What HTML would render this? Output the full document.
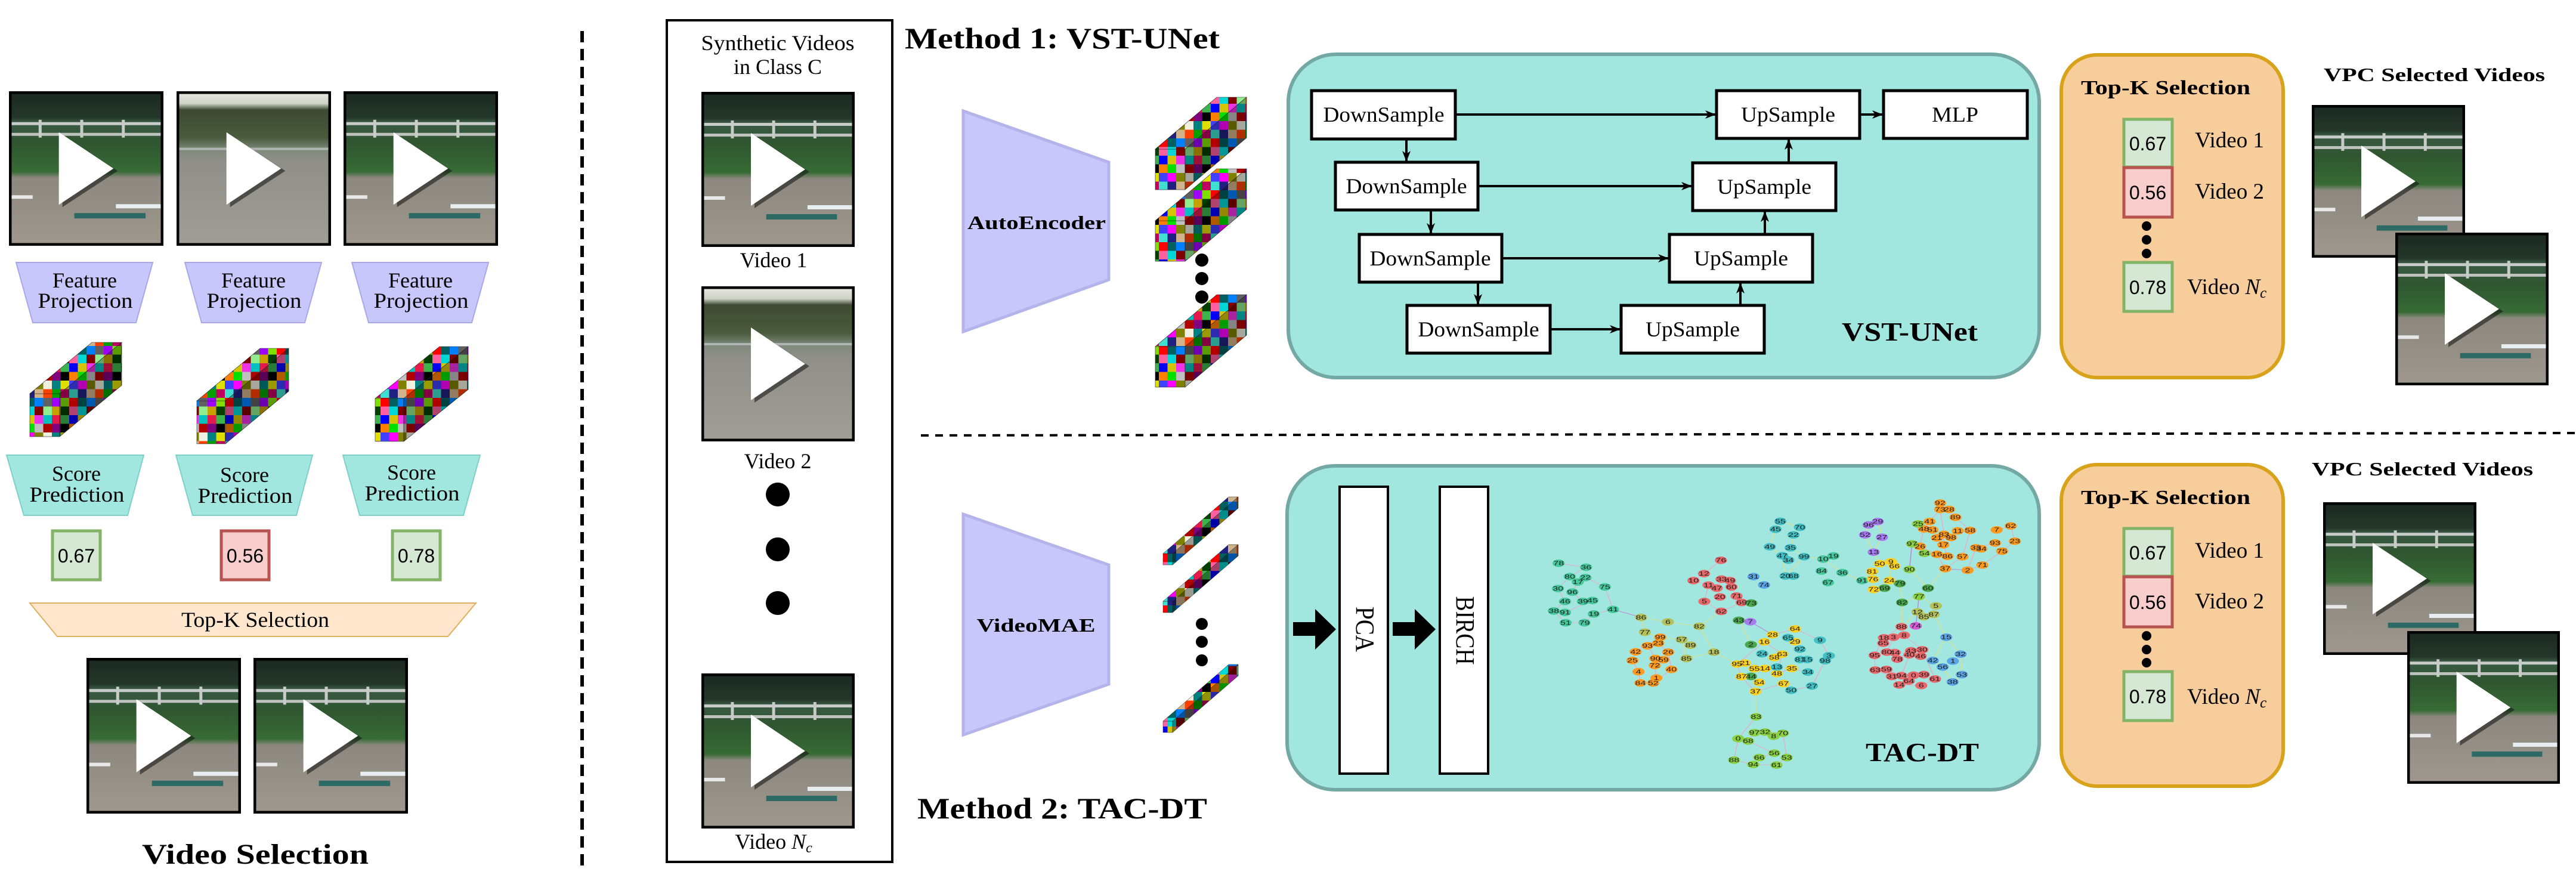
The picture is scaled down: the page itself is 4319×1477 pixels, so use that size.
<!DOCTYPE html>
<html><head><meta charset="utf-8"><style>
html,body{margin:0;padding:0;background:#fff}
svg{display:block}
.serif{font-family:"Liberation Serif",serif}
.sans{font-family:"Liberation Sans",sans-serif}
</style></head><body>
<svg width="4319" height="1477" viewBox="0 0 4319 1477" xmlns="http://www.w3.org/2000/svg" xmlns:xlink="http://www.w3.org/1999/xlink">
<defs>
<linearGradient id="vg" x1="0" y1="0" x2="0" y2="1">
<stop offset="0" stop-color="#1b2820"/><stop offset="0.17" stop-color="#24372a"/>
<stop offset="0.2" stop-color="#3b5a45"/><stop offset="0.33" stop-color="#2f5530"/>
<stop offset="0.52" stop-color="#376b35"/><stop offset="0.56" stop-color="#8d887f"/>
<stop offset="1" stop-color="#9e988e"/></linearGradient>
<linearGradient id="vg2" x1="0" y1="0" x2="0" y2="1">
<stop offset="0" stop-color="#e9e9e2"/><stop offset="0.08" stop-color="#cfd2c6"/>
<stop offset="0.12" stop-color="#3e4a33"/><stop offset="0.3" stop-color="#4a5b3d"/>
<stop offset="0.38" stop-color="#7e8a7c"/><stop offset="0.45" stop-color="#8f8e88"/>
<stop offset="1" stop-color="#a29e97"/></linearGradient>
<symbol id="vid" viewBox="0 0 260 260" preserveAspectRatio="none">
<rect width="260" height="260" fill="url(#vg)"/>
<rect x="0" y="52" width="260" height="5" fill="#c8ccc8"/>
<rect x="0" y="70" width="260" height="5" fill="#bfc3bf"/>
<rect x="50" y="48" width="5" height="30" fill="#c8ccc8"/><rect x="120" y="48" width="5" height="30" fill="#c8ccc8"/><rect x="190" y="48" width="5" height="30" fill="#c8ccc8"/>
<rect x="0" y="175" width="40" height="6" fill="#e8e8e8"/>
<rect x="110" y="205" width="120" height="9" fill="#2d6a66"/>
<rect x="180" y="190" width="80" height="7" fill="#e6eef2"/>
<polygon points="90,73 183,134 90,195" fill="#111" opacity="0.55"/>
<polygon points="84,69 176,130 84,191" fill="#fff"/>
<rect x="2" y="2" width="256" height="256" fill="none" stroke="#000" stroke-width="5"/>
</symbol>
<symbol id="vid2" viewBox="0 0 260 260" preserveAspectRatio="none">
<rect width="260" height="260" fill="url(#vg2)"/>
<rect x="0" y="95" width="260" height="4" fill="#b0b4b0"/>
<polygon points="90,73 183,134 90,195" fill="#111" opacity="0.55"/>
<polygon points="84,69 176,130 84,191" fill="#fff"/>
<rect x="2" y="2" width="256" height="256" fill="none" stroke="#000" stroke-width="5"/>
</symbol>
<pattern id="m" width="60" height="60" patternUnits="userSpaceOnUse" patternTransform="scale(1.45)">
<rect x="0" y="0" width="10" height="10" fill="#e6194b"/><rect x="10" y="0" width="10" height="10" fill="#3cb44b"/><rect x="20" y="0" width="10" height="10" fill="#0000ff"/><rect x="30" y="0" width="10" height="10" fill="#d4c400"/><rect x="40" y="0" width="10" height="10" fill="#f032e6"/><rect x="50" y="0" width="10" height="10" fill="#00c0c0"/>
<rect x="0" y="10" width="10" height="10" fill="#800080"/><rect x="10" y="10" width="10" height="10" fill="#000"/><rect x="20" y="10" width="10" height="10" fill="#ff8000"/><rect x="30" y="10" width="10" height="10" fill="#00e000"/><rect x="40" y="10" width="10" height="10" fill="#c0c0c0"/><rect x="50" y="10" width="10" height="10" fill="#b00000"/>
<rect x="0" y="20" width="10" height="10" fill="#008080"/><rect x="10" y="20" width="10" height="10" fill="#e0e000"/><rect x="20" y="20" width="10" height="10" fill="#4040ff"/><rect x="30" y="20" width="10" height="10" fill="#ff00ff"/><rect x="40" y="20" width="10" height="10" fill="#808000"/><rect x="50" y="20" width="10" height="10" fill="#f0f0e0"/>
<rect x="0" y="30" width="10" height="10" fill="#00a000"/><rect x="10" y="30" width="10" height="10" fill="#c00060"/><rect x="20" y="30" width="10" height="10" fill="#40e0d0"/><rect x="30" y="30" width="10" height="10" fill="#202080"/><rect x="40" y="30" width="10" height="10" fill="#d2b48c"/><rect x="50" y="30" width="10" height="10" fill="#ff4000"/>
<rect x="0" y="40" width="10" height="10" fill="#a000ff"/><rect x="10" y="40" width="10" height="10" fill="#80e000"/><rect x="20" y="40" width="10" height="10" fill="#ff0000"/><rect x="30" y="40" width="10" height="10" fill="#006060"/><rect x="40" y="40" width="10" height="10" fill="#0080ff"/><rect x="50" y="40" width="10" height="10" fill="#606060"/>
<rect x="0" y="50" width="10" height="10" fill="#c8a000"/><rect x="10" y="50" width="10" height="10" fill="#004000"/><rect x="20" y="50" width="10" height="10" fill="#ff60a0"/><rect x="30" y="50" width="10" height="10" fill="#00d8d8"/><rect x="40" y="50" width="10" height="10" fill="#800000"/><rect x="50" y="50" width="10" height="10" fill="#90ee90"/>
</pattern>
<marker id="ar" markerWidth="18" markerHeight="14" refX="17" refY="7" orient="auto" markerUnits="userSpaceOnUse"><path d="M0,0 L18,7 L0,14 L5,7z" fill="#000"/></marker>
</defs>

<use xlink:href="#vid" x="15" y="153" width="259" height="259"/>
<use xlink:href="#vid2" x="296" y="153" width="259" height="259"/>
<use xlink:href="#vid" x="576" y="153" width="259" height="259"/>

<g fill="#c7c7fb" stroke="#a8a8e6" stroke-width="2">
<polygon points="27,440 256,440 228,541 55,541"/>
<polygon points="310,440 539,440 511,541 338,541"/>
<polygon points="590,440 819,440 791,541 618,541"/>
</g>
<g fill="#a2e6e0" stroke="#80cfc8" stroke-width="2">
<polygon points="11,763 241,763 214,864 40,864"/>
<polygon points="295,763 524,763 497,864 323,864"/>
<polygon points="575,763 805,763 777,864 603,864"/>
</g>
<g class="serif" font-size="36" text-anchor="middle" fill="#000">
<text x="142" y="482">Feature</text><text x="143" y="516" textLength="159" lengthAdjust="spacingAndGlyphs">Projection</text>
<text x="425" y="482">Feature</text><text x="426" y="516" textLength="159" lengthAdjust="spacingAndGlyphs">Projection</text>
<text x="705" y="482">Feature</text><text x="706" y="516" textLength="159" lengthAdjust="spacingAndGlyphs">Projection</text>
<text x="128" y="806">Score</text><text x="129" y="841" textLength="159" lengthAdjust="spacingAndGlyphs">Prediction</text>
<text x="410" y="808">Score</text><text x="411" y="843" textLength="159" lengthAdjust="spacingAndGlyphs">Prediction</text>
<text x="690" y="804">Score</text><text x="691" y="839" textLength="159" lengthAdjust="spacingAndGlyphs">Prediction</text>
</g>

<g stroke="#222" stroke-width="0.6">
<rect x="50" y="660" width="50" height="72" fill="url(#m)"/>
<polygon points="50,660 100,660 204,574 154,574" fill="url(#m)"/>
<polygon points="100,660 204,574 204,646 100,732" fill="url(#m)"/>
<polygon points="100,660 204,574 204,646 100,732" fill="#000" opacity="0.3"/>
<rect x="330" y="672" width="48" height="72" fill="url(#m)"/>
<polygon points="330,672 378,672 484,584 436,584" fill="url(#m)"/>
<polygon points="378,672 484,584 484,656 378,744" fill="url(#m)"/>
<polygon points="378,672 484,584 484,656 378,744" fill="#000" opacity="0.3"/>
<rect x="629" y="668" width="48" height="72" fill="url(#m)"/>
<polygon points="629,668 677,668 785,581 737,581" fill="url(#m)"/>
<polygon points="677,668 785,581 785,653 677,740" fill="url(#m)"/>
<polygon points="677,668 785,581 785,653 677,740" fill="#000" opacity="0.3"/>
</g>

<g class="sans" font-size="32" text-anchor="middle">
<rect x="88" y="890" width="80" height="82" fill="#d5e8d4" stroke="#82b366" stroke-width="5"/>
<text x="128" y="943">0.67</text>
<rect x="371" y="890" width="80" height="82" fill="#f8cecc" stroke="#b85450" stroke-width="5"/>
<text x="411" y="943">0.56</text>
<rect x="658" y="890" width="80" height="82" fill="#d5e8d4" stroke="#82b366" stroke-width="5"/>
<text x="698" y="943">0.78</text>
</g>
<polygon points="50,1011 798,1011 751,1067 96,1067" fill="#ffe6cc" stroke="#e0b060" stroke-width="2"/>
<text x="428" y="1051" class="serif" font-size="36" text-anchor="middle" textLength="248" lengthAdjust="spacingAndGlyphs">Top-K Selection</text>
<use xlink:href="#vid" x="145" y="1103" width="259" height="261"/>
<use xlink:href="#vid" x="425" y="1103" width="259" height="261"/>
<text x="428" y="1448" class="serif" font-size="48" font-weight="bold" text-anchor="middle" textLength="380" lengthAdjust="spacingAndGlyphs">Video Selection</text>

<line x1="976" y1="52" x2="976" y2="1458" stroke="#000" stroke-width="6" stroke-dasharray="19 11"/>

<rect x="1118" y="34" width="378" height="1411" fill="none" stroke="#000" stroke-width="4"/>
<g class="serif" font-size="36" text-anchor="middle">
<text x="1304" y="84" textLength="257" lengthAdjust="spacingAndGlyphs">Synthetic Videos</text>
<text x="1304" y="124">in Class C</text>
<text x="1297" y="448">Video 1</text>
<text x="1304" y="785">Video 2</text>
<text x="1297" y="1423">Video <tspan font-style="italic">N</tspan><tspan font-style="italic" font-size="24" dy="6">c</tspan></text>
</g>
<use xlink:href="#vid" x="1176" y="154" width="257" height="260"/>
<use xlink:href="#vid2" x="1176" y="480" width="257" height="260"/>
<use xlink:href="#vid" x="1176" y="1129" width="257" height="260"/>
<circle cx="1304" cy="829" r="20"/><circle cx="1304" cy="921" r="20"/><circle cx="1304" cy="1011" r="20"/>

<text x="1517" y="81" class="serif" font-size="50" font-weight="bold" textLength="528" lengthAdjust="spacingAndGlyphs">Method 1: VST-UNet</text>
<polygon points="1615,186 1859,272 1859,469 1615,556" fill="#c7c7fb" stroke="#b4b4ea" stroke-width="5"/>
<text x="1738" y="384" class="serif" font-size="32" font-weight="bold" text-anchor="middle" textLength="232" lengthAdjust="spacingAndGlyphs">AutoEncoder</text>
<g stroke="#222" stroke-width="0.6">
<rect x="1937" y="250" width="50" height="68" fill="url(#m)"/>
<polygon points="1937,250 1987,250 2090,163 2040,163" fill="url(#m)"/>
<polygon points="1987,250 2090,163 2090,231 1987,318" fill="url(#m)"/>
<polygon points="1987,250 2090,163 2090,231 1987,318" fill="#000" opacity="0.3"/>
<rect x="1937" y="370" width="50" height="68" fill="url(#m)"/>
<polygon points="1937,370 1987,370 2090,283 2040,283" fill="url(#m)"/>
<polygon points="1987,370 2090,283 2090,351 1987,438" fill="url(#m)"/>
<polygon points="1987,370 2090,283 2090,351 1987,438" fill="#000" opacity="0.3"/>
<rect x="1937" y="581" width="50" height="68" fill="url(#m)"/>
<polygon points="1937,581 1987,581 2090,494 2040,494" fill="url(#m)"/>
<polygon points="1987,581 2090,494 2090,562 1987,649" fill="url(#m)"/>
<polygon points="1987,581 2090,494 2090,562 1987,649" fill="#000" opacity="0.3"/>
</g>
<circle cx="2015" cy="436" r="11"/><circle cx="2015" cy="467" r="11"/><circle cx="2015" cy="498" r="11"/>

<rect x="2160" y="91" width="1259" height="542" rx="80" fill="#a2e6e0" stroke="#74a8a4" stroke-width="6"/>
<g fill="#fff" stroke="#000" stroke-width="5">
<rect x="2199" y="152" width="241" height="81"/><rect x="2239" y="272" width="239" height="80"/>
<rect x="2279" y="393" width="239" height="80"/><rect x="2359" y="512" width="240" height="80"/>
<rect x="2878" y="152" width="240" height="80"/><rect x="2838" y="273" width="240" height="80"/>
<rect x="2799" y="393" width="240" height="80"/><rect x="2718" y="512" width="240" height="80"/>
<rect x="3158" y="152" width="241" height="80"/>
</g>
<g class="serif" font-size="36" text-anchor="middle">
<text x="2320" y="204" textLength="203" lengthAdjust="spacingAndGlyphs">DownSample</text><text x="2358" y="324" textLength="203" lengthAdjust="spacingAndGlyphs">DownSample</text>
<text x="2398" y="445" textLength="203" lengthAdjust="spacingAndGlyphs">DownSample</text><text x="2479" y="564" textLength="203" lengthAdjust="spacingAndGlyphs">DownSample</text>
<text x="2998" y="204" textLength="158" lengthAdjust="spacingAndGlyphs">UpSample</text><text x="2958" y="325" textLength="158" lengthAdjust="spacingAndGlyphs">UpSample</text>
<text x="2919" y="445" textLength="158" lengthAdjust="spacingAndGlyphs">UpSample</text><text x="2838" y="564" textLength="158" lengthAdjust="spacingAndGlyphs">UpSample</text>
<text x="3278" y="204" textLength="78" lengthAdjust="spacingAndGlyphs">MLP</text>
</g>
<g stroke="#000" stroke-width="4" marker-end="url(#ar)">
<line x1="2440" y1="192" x2="2876" y2="192"/><line x1="2478" y1="312" x2="2836" y2="312"/>
<line x1="2518" y1="433" x2="2797" y2="433"/><line x1="2599" y1="552" x2="2716" y2="552"/>
<line x1="3118" y1="192" x2="3156" y2="192"/>
<line x1="2358" y1="233" x2="2358" y2="270"/><line x1="2399" y1="352" x2="2399" y2="391"/>
<line x1="2478" y1="473" x2="2478" y2="510"/>
<line x1="2918" y1="512" x2="2918" y2="475"/><line x1="2959" y1="393" x2="2959" y2="355"/>
<line x1="2999" y1="273" x2="2999" y2="234"/>
</g>
<text x="3088" y="571" class="serif" font-size="44" font-weight="bold" textLength="228" lengthAdjust="spacingAndGlyphs">VST-UNet</text>

<rect x="3456" y="92" width="372" height="541" rx="60" fill="#f8cd9c" stroke="#d9a21b" stroke-width="6"/>
<text x="3631" y="158" class="serif" font-size="34" font-weight="bold" text-anchor="middle" textLength="284" lengthAdjust="spacingAndGlyphs">Top-K Selection</text>
<g class="sans" font-size="32" text-anchor="middle">
<rect x="3561" y="200" width="81" height="80" fill="#d5e8d4" stroke="#82b366" stroke-width="5"/><text x="3601" y="252">0.67</text>
<rect x="3561" y="281" width="81" height="83" fill="#f8cecc" stroke="#b85450" stroke-width="5"/><text x="3601" y="334">0.56</text>
<rect x="3561" y="440" width="81" height="82" fill="#d5e8d4" stroke="#82b366" stroke-width="5"/><text x="3601" y="493">0.78</text>
</g>
<circle cx="3599" cy="379" r="8"/><circle cx="3599" cy="402" r="8"/><circle cx="3599" cy="425" r="8"/>
<g class="serif" font-size="37">
<text x="3680" y="247">Video 1</text><text x="3680" y="333">Video 2</text>
<text x="3667" y="493">Video <tspan font-style="italic">N</tspan><tspan font-style="italic" font-size="25" dy="6">c</tspan></text>
</g>
<text x="3896" y="136" class="serif" font-size="32" font-weight="bold" textLength="371" lengthAdjust="spacingAndGlyphs">VPC Selected Videos</text>
<use xlink:href="#vid" x="3876" y="176" width="257" height="256"/>
<use xlink:href="#vid" x="4016" y="390" width="257" height="256"/>

<line x1="1544" y1="730" x2="4319" y2="726" stroke="#000" stroke-width="4" stroke-dasharray="13 11"/>

<polygon points="1615,862 1859,947 1859,1147 1615,1232" fill="#c7c7fb" stroke="#b4b4ea" stroke-width="5"/>
<text x="1737" y="1059" class="serif" font-size="32" font-weight="bold" text-anchor="middle" textLength="199" lengthAdjust="spacingAndGlyphs">VideoMAE</text>
<g stroke="#222" stroke-width="0.5">
<rect x="1950" y="928" width="16" height="19" fill="url(#m)"/>
<polygon points="1950,928 1966,928 2076,833 2060,833" fill="url(#m)"/>
<polygon points="1966,928 2076,833 2076,852 1966,947" fill="url(#m)"/>
<polygon points="1966,928 2076,833 2076,852 1966,947" fill="#000" opacity="0.35"/>
<rect x="1950" y="1008" width="16" height="19" fill="url(#m)"/>
<polygon points="1950,1008 1966,1008 2076,913 2060,913" fill="url(#m)"/>
<polygon points="1966,1008 2076,913 2076,932 1966,1027" fill="url(#m)"/>
<polygon points="1966,1008 2076,913 2076,932 1966,1027" fill="#000" opacity="0.35"/>
<rect x="1950" y="1209" width="16" height="19" fill="url(#m)"/>
<polygon points="1950,1209 1966,1209 2076,1114 2060,1114" fill="url(#m)"/>
<polygon points="1966,1209 2076,1114 2076,1133 1966,1228" fill="url(#m)"/>
<polygon points="1966,1209 2076,1114 2076,1133 1966,1228" fill="#000" opacity="0.35"/>
</g>
<circle cx="2015" cy="1046" r="10"/><circle cx="2015" cy="1076" r="10"/><circle cx="2015" cy="1107" r="10"/>

<rect x="2158" y="781" width="1261" height="543" rx="80" fill="#a2e6e0" stroke="#74a8a4" stroke-width="6"/>
<polygon points="2168,1043 2205,1043 2205,1021 2240,1055 2205,1089 2205,1066 2168,1066" fill="#000"/>
<polygon points="2335,1043 2372,1043 2372,1021 2407,1055 2372,1089 2372,1066 2335,1066" fill="#000"/>
<rect x="2246" y="816" width="81" height="481" fill="#fff" stroke="#000" stroke-width="4"/>
<rect x="2414" y="816" width="81" height="481" fill="#fff" stroke="#000" stroke-width="4"/>
<text transform="translate(2274,1055) rotate(90)" class="serif" font-size="44" text-anchor="middle" textLength="76" lengthAdjust="spacingAndGlyphs">PCA</text>
<text transform="translate(2442,1057) rotate(90)" class="serif" font-size="44" text-anchor="middle" textLength="115" lengthAdjust="spacingAndGlyphs">BIRCH</text>

<svg x="2580" y="830" width="840" height="470" viewBox="0 0 1568 1410" preserveAspectRatio="none">
<g fill="none" stroke-width="3" opacity="0.75">
<g stroke="#f4a0c0">
<polyline points="62,343 148,363 97,410 60,470 82,535 47,583 84,642 143,642 172,598 232,575 207,462 146,415 122,437 105,488 138,535 168,530 82,590"/>
<polyline points="380,715 303,788 293,832 312,888 318,945 358,945 415,877 405,790 374,745 340,758 365,822 363,857 368,920"/>
<polyline points="570,328 517,395 484,430 531,453 518,535 571,585 635,540 619,508 603,462 598,430 572,423 557,468 567,512"/>
<polyline points="732,702 802,673 880,730 908,808 896,833 855,960 790,982 766,948 678,988 634,913 620,850 706,738 762,800 745,898 792,872 842,890"/>
<polyline points="680,1115 624,1225 611,1333 671,1355 744,1358 776,1320 764,1198 708,1192 675,1195 655,1237 737,1298 690,1320"/>
<polyline points="1135,662 1080,718 1051,806 1053,880 1105,912 1128,955 1197,958 1240,925 1200,778 1143,705 1110,715 1089,790 1122,825 1165,783 1135,908 1088,877"/>
<polyline points="1256,40 1304,112 1350,178 1326,310 1272,370 1246,298 1193,258 1205,170 1223,133 1256,72 1268,198 1266,250 1279,308"/>
<polyline points="1433,175 1477,155 1490,232 1450,282 1388,352 1342,378 1368,265 1428,241"/>
</g>
<g stroke="#e8e070">
<polyline points="232,575 320,615 404,638 502,660 571,585"/><polyline points="502,660 548,790 620,850"/>
<polyline points="626,630 664,752"/><polyline points="678,988 680,1115"/>
<polyline points="830,310 890,322 950,390 1012,430 1043,384"/>
<polyline points="1160,374 1218,468 1272,370"/><polyline points="1190,510 1185,588 1135,662"/>
<polyline points="1236,600 1275,715 1233,832 1264,865 1295,940 1324,903 1320,800 1275,715"/>
<polyline points="1137,540 1135,662"/><polyline points="1130,445 1137,540 1190,510 1243,557"/>
<polyline points="756,132 817,162 797,200 788,265 830,310 772,407 762,305 723,260 741,172 756,132"/>
<polyline points="1032,150 1061,133 1074,212 1048,287 1021,200 1032,150"/><polyline points="1048,287 1067,345 1043,384 1048,475 1097,430 1102,335"/>
<polyline points="320,615 332,690 380,715 447,727 462,822 548,790"/>
</g>
<g stroke="#c070e0"><polyline points="232,575 320,615"/><polyline points="662,637 732,702"/><polyline points="1160,374 1168,245"/><polyline points="1272,370 1342,378"/><polyline points="1180,658 1190,510"/></g>
</g>
<g stroke="none">
<g fill="#45c99c"><circle cx="62" cy="343" r="19"/><circle cx="148" cy="363" r="19"/><circle cx="97" cy="410" r="19"/><circle cx="122" cy="437" r="19"/><circle cx="146" cy="415" r="19"/><circle cx="60" cy="470" r="19"/><circle cx="105" cy="488" r="19"/><circle cx="207" cy="462" r="19"/><circle cx="82" cy="535" r="19"/><circle cx="138" cy="535" r="19"/><circle cx="168" cy="530" r="19"/><circle cx="232" cy="575" r="19"/><circle cx="47" cy="583" r="19"/><circle cx="82" cy="590" r="19"/><circle cx="172" cy="598" r="19"/><circle cx="84" cy="642" r="19"/><circle cx="143" cy="642" r="19"/><circle cx="890" cy="322" r="19"/><circle cx="922" cy="306" r="19"/><circle cx="885" cy="382" r="19"/><circle cx="950" cy="390" r="19"/><circle cx="905" cy="440" r="19"/><circle cx="1012" cy="430" r="19"/></g>
<g fill="#b5c25a"><circle cx="320" cy="615" r="19"/><circle cx="404" cy="638" r="19"/><circle cx="502" cy="660" r="19"/><circle cx="332" cy="690" r="19"/><circle cx="447" cy="727" r="19"/><circle cx="475" cy="755" r="19"/><circle cx="462" cy="822" r="19"/><circle cx="548" cy="790" r="19"/><circle cx="1243" cy="557" r="19"/><circle cx="1185" cy="588" r="19"/><circle cx="1205" cy="612" r="19"/><circle cx="1236" cy="600" r="19"/></g>
<g fill="#ff9a1f"><circle cx="380" cy="715" r="19"/><circle cx="374" cy="745" r="19"/><circle cx="340" cy="758" r="19"/><circle cx="303" cy="788" r="19"/><circle cx="405" cy="790" r="19"/><circle cx="293" cy="832" r="19"/><circle cx="365" cy="822" r="19"/><circle cx="390" cy="828" r="19"/><circle cx="363" cy="857" r="19"/><circle cx="415" cy="877" r="19"/><circle cx="312" cy="888" r="19"/><circle cx="368" cy="920" r="19"/><circle cx="318" cy="945" r="19"/><circle cx="358" cy="945" r="19"/><circle cx="1256" cy="40" r="19"/><circle cx="1256" cy="72" r="19"/><circle cx="1284" cy="72" r="19"/><circle cx="1304" cy="112" r="19"/><circle cx="1223" cy="133" r="19"/><circle cx="1205" cy="170" r="19"/><circle cx="1232" cy="175" r="19"/><circle cx="1268" cy="198" r="19"/><circle cx="1290" cy="213" r="19"/><circle cx="1246" cy="215" r="19"/><circle cx="1311" cy="180" r="19"/><circle cx="1350" cy="178" r="19"/><circle cx="1193" cy="258" r="19"/><circle cx="1266" cy="250" r="19"/><circle cx="1246" cy="298" r="19"/><circle cx="1279" cy="308" r="19"/><circle cx="1326" cy="310" r="19"/><circle cx="1368" cy="265" r="19"/><circle cx="1385" cy="270" r="19"/><circle cx="1428" cy="241" r="19"/><circle cx="1433" cy="175" r="19"/><circle cx="1477" cy="155" r="19"/><circle cx="1490" cy="232" r="19"/><circle cx="1450" cy="282" r="19"/><circle cx="1272" cy="370" r="19"/><circle cx="1342" cy="378" r="19"/><circle cx="1388" cy="352" r="19"/></g>
<g fill="#e8686c"><circle cx="570" cy="328" r="19"/><circle cx="517" cy="395" r="19"/><circle cx="484" cy="430" r="19"/><circle cx="572" cy="423" r="19"/><circle cx="598" cy="430" r="19"/><circle cx="531" cy="453" r="19"/><circle cx="557" cy="468" r="19"/><circle cx="603" cy="462" r="19"/><circle cx="567" cy="512" r="19"/><circle cx="619" cy="508" r="19"/><circle cx="518" cy="535" r="19"/><circle cx="635" cy="540" r="19"/><circle cx="571" cy="585" r="19"/><circle cx="1135" cy="662" r="19"/><circle cx="1080" cy="718" r="19"/><circle cx="1078" cy="745" r="19"/><circle cx="1110" cy="715" r="19"/><circle cx="1143" cy="705" r="19"/><circle cx="1051" cy="806" r="19"/><circle cx="1089" cy="790" r="19"/><circle cx="1114" cy="792" r="19"/><circle cx="1122" cy="825" r="19"/><circle cx="1165" cy="783" r="19"/><circle cx="1160" cy="803" r="19"/><circle cx="1200" cy="778" r="19"/><circle cx="1195" cy="810" r="19"/><circle cx="1053" cy="880" r="19"/><circle cx="1088" cy="877" r="19"/><circle cx="1105" cy="912" r="19"/><circle cx="1135" cy="908" r="19"/><circle cx="1173" cy="906" r="19"/><circle cx="1205" cy="903" r="19"/><circle cx="1158" cy="935" r="19"/><circle cx="1128" cy="955" r="19"/><circle cx="1197" cy="958" r="19"/><circle cx="1240" cy="925" r="19"/></g>
<g fill="#5aa5e5"><circle cx="672" cy="410" r="19"/><circle cx="705" cy="452" r="19"/><circle cx="1275" cy="715" r="19"/><circle cx="1320" cy="800" r="19"/><circle cx="1233" cy="832" r="19"/><circle cx="1296" cy="835" r="19"/><circle cx="1264" cy="865" r="19"/><circle cx="1324" cy="903" r="19"/><circle cx="1295" cy="940" r="19"/></g>
<g fill="#4aa84c"><circle cx="665" cy="543" r="19"/><circle cx="626" cy="630" r="19"/><circle cx="664" cy="752" r="19"/><circle cx="664" cy="912" r="19"/><circle cx="1082" cy="468" r="19"/><circle cx="1130" cy="445" r="19"/><circle cx="1137" cy="540" r="19"/><circle cx="1218" cy="468" r="19"/></g>
<g fill="#a77bf0"><circle cx="662" cy="637" r="19"/><circle cx="1032" cy="150" r="19"/><circle cx="1061" cy="133" r="19"/><circle cx="1021" cy="200" r="19"/><circle cx="1074" cy="212" r="19"/><circle cx="1048" cy="287" r="19"/></g>
<g fill="#ffd21f"><circle cx="732" cy="702" r="19"/><circle cx="802" cy="673" r="19"/><circle cx="706" cy="738" r="19"/><circle cx="802" cy="737" r="19"/><circle cx="737" cy="817" r="19"/><circle cx="762" cy="800" r="19"/><circle cx="620" cy="850" r="19"/><circle cx="645" cy="845" r="19"/><circle cx="675" cy="873" r="19"/><circle cx="708" cy="872" r="19"/><circle cx="745" cy="898" r="19"/><circle cx="792" cy="872" r="19"/><circle cx="634" cy="913" r="19"/><circle cx="690" cy="942" r="19"/><circle cx="766" cy="948" r="19"/><circle cx="678" cy="988" r="19"/><circle cx="1067" cy="345" r="19"/><circle cx="1102" cy="335" r="19"/><circle cx="1113" cy="357" r="19"/><circle cx="1043" cy="384" r="19"/><circle cx="1046" cy="423" r="19"/><circle cx="1097" cy="430" r="19"/><circle cx="1048" cy="475" r="19"/></g>
<g fill="#40bfc5"><circle cx="780" cy="717" r="19"/><circle cx="817" cy="775" r="19"/><circle cx="880" cy="730" r="19"/><circle cx="699" cy="798" r="19"/><circle cx="818" cy="827" r="19"/><circle cx="840" cy="827" r="19"/><circle cx="896" cy="833" r="19"/><circle cx="908" cy="808" r="19"/><circle cx="745" cy="865" r="19"/><circle cx="842" cy="890" r="19"/><circle cx="855" cy="960" r="19"/><circle cx="790" cy="982" r="19"/><circle cx="756" cy="132" r="19"/><circle cx="741" cy="172" r="19"/><circle cx="817" cy="162" r="19"/><circle cx="797" cy="200" r="19"/><circle cx="723" cy="260" r="19"/><circle cx="788" cy="265" r="19"/><circle cx="762" cy="305" r="19"/><circle cx="781" cy="327" r="19"/><circle cx="830" cy="310" r="19"/><circle cx="772" cy="407" r="19"/><circle cx="797" cy="407" r="19"/></g>
<g fill="#8ad142"><circle cx="680" cy="1115" r="19"/><circle cx="675" cy="1195" r="19"/><circle cx="708" cy="1192" r="19"/><circle cx="735" cy="1213" r="19"/><circle cx="764" cy="1198" r="19"/><circle cx="624" cy="1225" r="19"/><circle cx="655" cy="1237" r="19"/><circle cx="737" cy="1298" r="19"/><circle cx="776" cy="1320" r="19"/><circle cx="690" cy="1320" r="19"/><circle cx="611" cy="1333" r="19"/><circle cx="671" cy="1355" r="19"/><circle cx="744" cy="1358" r="19"/><circle cx="1160" cy="374" r="19"/><circle cx="1190" cy="510" r="19"/><circle cx="1168" cy="245" r="19"/><circle cx="1187" cy="145" r="19"/><circle cx="1207" cy="293" r="19"/></g>
<g fill="#d55ad5"><circle cx="1180" cy="658" r="19"/></g>
</g>
<g class="sans" font-size="30" text-anchor="middle" fill="#1a1a1a">
<text x="62" y="353">78</text><text x="148" y="373">36</text><text x="97" y="420">80</text><text x="122" y="447">17</text><text x="146" y="425">22</text><text x="60" y="480">30</text><text x="105" y="498">96</text><text x="207" y="472">75</text><text x="82" y="545">46</text><text x="138" y="545">39</text><text x="168" y="540">45</text><text x="232" y="585">41</text><text x="47" y="593">38</text><text x="82" y="600">91</text><text x="172" y="608">19</text><text x="84" y="652">51</text><text x="143" y="652">79</text><text x="890" y="332">10</text><text x="922" y="316">19</text><text x="885" y="392">84</text><text x="950" y="400">36</text><text x="905" y="450">67</text><text x="1012" y="440">91</text>
<text x="320" y="625">86</text><text x="404" y="648">6</text><text x="502" y="670">82</text><text x="332" y="700">77</text><text x="447" y="737">57</text><text x="475" y="765">89</text><text x="462" y="832">85</text><text x="548" y="800">18</text><text x="1243" y="567">5</text><text x="1185" y="598">12</text><text x="1205" y="622">85</text><text x="1236" y="610">87</text>
<text x="380" y="725">99</text><text x="374" y="755">23</text><text x="340" y="768">93</text><text x="303" y="798">42</text><text x="405" y="800">26</text><text x="293" y="842">25</text><text x="365" y="832">90</text><text x="390" y="838">59</text><text x="363" y="867">72</text><text x="415" y="887">40</text><text x="312" y="898">4</text><text x="368" y="930">1</text><text x="318" y="955">84</text><text x="358" y="955">52</text><text x="1256" y="50">92</text><text x="1256" y="82">73</text><text x="1284" y="82">28</text><text x="1304" y="122">89</text><text x="1223" y="143">41</text><text x="1205" y="180">48</text><text x="1232" y="185">51</text><text x="1268" y="208">83</text><text x="1290" y="223">98</text><text x="1246" y="225">21</text><text x="1311" y="190">11</text><text x="1350" y="188">58</text><text x="1193" y="268">26</text><text x="1266" y="260">17</text><text x="1246" y="308">16</text><text x="1279" y="318">86</text><text x="1326" y="320">57</text><text x="1368" y="275">33</text><text x="1385" y="280">34</text><text x="1428" y="251">93</text><text x="1433" y="185">7</text><text x="1477" y="165">62</text><text x="1490" y="242">23</text><text x="1450" y="292">75</text><text x="1272" y="380">37</text><text x="1342" y="388">2</text><text x="1388" y="362">71</text>
<text x="570" y="338">76</text><text x="517" y="405">12</text><text x="484" y="440">10</text><text x="572" y="433">33</text><text x="598" y="440">49</text><text x="531" y="463">11</text><text x="557" y="478">47</text><text x="603" y="472">60</text><text x="567" y="522">20</text><text x="619" y="518">71</text><text x="518" y="545">5</text><text x="635" y="550">69</text><text x="571" y="595">62</text><text x="1135" y="672">88</text><text x="1080" y="728">18</text><text x="1078" y="755">65</text><text x="1110" y="725">3</text><text x="1143" y="715">8</text><text x="1051" y="816">95</text><text x="1089" y="800">80</text><text x="1114" y="802">44</text><text x="1122" y="835">78</text><text x="1165" y="793">43</text><text x="1160" y="813">40</text><text x="1200" y="788">30</text><text x="1195" y="820">46</text><text x="1053" y="890">63</text><text x="1088" y="887">59</text><text x="1105" y="922">31</text><text x="1135" y="918">94</text><text x="1173" y="916">0</text><text x="1205" y="913">39</text><text x="1158" y="945">64</text><text x="1128" y="965">14</text><text x="1197" y="968">6</text><text x="1240" y="935">61</text>
<text x="672" y="420">31</text><text x="705" y="462">74</text><text x="1275" y="725">15</text><text x="1320" y="810">32</text><text x="1233" y="842">42</text><text x="1296" y="845">1</text><text x="1264" y="875">56</text><text x="1324" y="913">53</text><text x="1295" y="950">38</text>
<text x="665" y="553">73</text><text x="626" y="640">43</text><text x="664" y="762">2</text><text x="664" y="922">44</text><text x="1082" y="478">69</text><text x="1130" y="455">79</text><text x="1137" y="550">82</text><text x="1218" y="478">60</text>
<text x="662" y="647">7</text><text x="1032" y="160">96</text><text x="1061" y="143">29</text><text x="1021" y="210">52</text><text x="1074" y="222">27</text><text x="1048" y="297">13</text>
<text x="732" y="712">28</text><text x="802" y="683">64</text><text x="706" y="748">16</text><text x="802" y="747">29</text><text x="737" y="827">58</text><text x="762" y="810">63</text><text x="620" y="860">95</text><text x="645" y="855">21</text><text x="675" y="883">55</text><text x="708" y="882">14</text><text x="745" y="908">48</text><text x="792" y="882">35</text><text x="634" y="923">87</text><text x="690" y="952">54</text><text x="766" y="958">67</text><text x="678" y="998">37</text><text x="1067" y="355">50</text><text x="1102" y="345">9</text><text x="1113" y="367">66</text><text x="1043" y="394">81</text><text x="1046" y="433">76</text><text x="1097" y="440">24</text><text x="1048" y="485">72</text>
<text x="780" y="727">65</text><text x="817" y="785">92</text><text x="880" y="740">9</text><text x="699" y="808">24</text><text x="818" y="837">81</text><text x="840" y="837">15</text><text x="896" y="843">98</text><text x="908" y="818">3</text><text x="745" y="875">13</text><text x="842" y="900">34</text><text x="855" y="970">27</text><text x="790" y="992">50</text><text x="756" y="142">55</text><text x="741" y="182">45</text><text x="817" y="172">70</text><text x="797" y="210">22</text><text x="723" y="270">49</text><text x="788" y="275">35</text><text x="762" y="315">47</text><text x="781" y="337">34</text><text x="830" y="320">99</text><text x="772" y="417">20</text><text x="797" y="417">68</text>
<text x="680" y="1125">83</text><text x="675" y="1205">97</text><text x="708" y="1202">32</text><text x="735" y="1223">8</text><text x="764" y="1208">70</text><text x="624" y="1235">0</text><text x="655" y="1247">68</text><text x="737" y="1308">56</text><text x="776" y="1330">53</text><text x="690" y="1330">66</text><text x="611" y="1343">88</text><text x="671" y="1365">94</text><text x="744" y="1368">61</text><text x="1160" y="384">90</text><text x="1190" y="520">77</text><text x="1168" y="255">97</text><text x="1187" y="155">25</text><text x="1207" y="303">54</text>
<text x="1180" y="668">74</text>
</g>
</svg>

<text x="3128" y="1276" class="serif" font-size="44" font-weight="bold" textLength="190" lengthAdjust="spacingAndGlyphs">TAC-DT</text>
<text x="1538" y="1372" class="serif" font-size="50" font-weight="bold" textLength="486" lengthAdjust="spacingAndGlyphs">Method 2: TAC-DT</text>

<rect x="3456" y="779" width="372" height="539" rx="60" fill="#f8cd9c" stroke="#d9a21b" stroke-width="6"/>
<text x="3631" y="845" class="serif" font-size="34" font-weight="bold" text-anchor="middle" textLength="284" lengthAdjust="spacingAndGlyphs">Top-K Selection</text>
<g class="sans" font-size="32" text-anchor="middle">
<rect x="3561" y="886" width="81" height="80" fill="#d5e8d4" stroke="#82b366" stroke-width="5"/><text x="3601" y="938">0.67</text>
<rect x="3561" y="967" width="81" height="84" fill="#f8cecc" stroke="#b85450" stroke-width="5"/><text x="3601" y="1021">0.56</text>
<rect x="3561" y="1126" width="81" height="82" fill="#d5e8d4" stroke="#82b366" stroke-width="5"/><text x="3601" y="1179">0.78</text>
</g>
<circle cx="3599" cy="1066" r="8"/><circle cx="3599" cy="1089" r="8"/><circle cx="3599" cy="1111" r="8"/>
<g class="serif" font-size="37">
<text x="3680" y="935">Video 1</text><text x="3680" y="1020">Video 2</text>
<text x="3667" y="1180">Video <tspan font-style="italic">N</tspan><tspan font-style="italic" font-size="25" dy="6">c</tspan></text>
</g>
<text x="3876" y="797" class="serif" font-size="32" font-weight="bold" textLength="371" lengthAdjust="spacingAndGlyphs">VPC Selected Videos</text>
<use xlink:href="#vid" x="3895" y="842" width="257" height="256"/>
<use xlink:href="#vid" x="4036" y="1058" width="256" height="256"/>
</svg>
</body></html>
